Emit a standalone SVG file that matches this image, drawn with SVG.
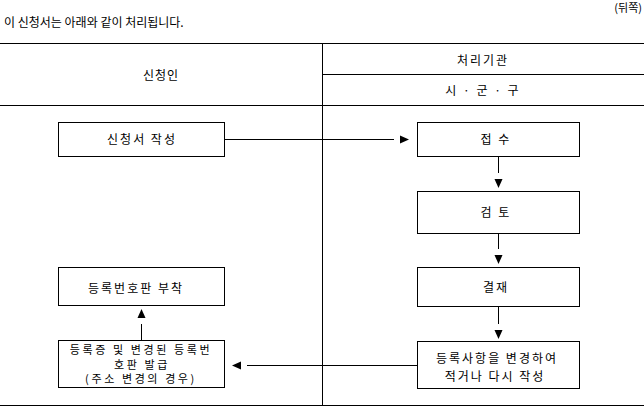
<svg xmlns="http://www.w3.org/2000/svg" width="644" height="407" viewBox="0 0 644 407">
<style>
  text { font-family: "Noto Sans CJK KR", "Noto Sans", sans-serif; font-size: 12px; fill: #000; }
  .c { text-anchor: middle; letter-spacing: 2px; }
  .s { font-size: 11px; letter-spacing: 2.6px; }
  .grid { stroke: #000; stroke-width: 1; fill: none; }
  .box { stroke: #000; stroke-width: 1; fill: #fff; }
  .conn { stroke: #000; stroke-width: 1; fill: none; marker-end: url(#arr); }
</style>
<defs>
  <marker id="arr" viewBox="0 0 9 8" refX="-6" refY="4" markerWidth="9" markerHeight="8" markerUnits="userSpaceOnUse" orient="auto" overflow="visible">
    <path d="M0,0 L9,4 L0,8 Z" fill="#000"/>
  </marker>
</defs>
<rect width="644" height="407" fill="#fff"/>
<text x="642" y="12" style="text-anchor:end;font-size:11px">(뒤쪽)</text>
<text x="4" y="27">이 신청서는 아래와 같이 처리됩니다.</text>
<g id="table" class="grid">
  <line x1="0" y1="43.5" x2="644" y2="43.5"/>
  <line x1="322" y1="74.5" x2="644" y2="74.5"/>
  <line x1="0" y1="105.5" x2="644" y2="105.5"/>
  <line x1="0" y1="405.5" x2="644" y2="405.5"/>
  <line x1="322.5" y1="43" x2="322.5" y2="406"/>
</g>
<text class="c" x="161" y="79.5" style="letter-spacing:1px">신청인</text>
<text class="c" x="483" y="64.5">처리기관</text>
<text class="c" x="483" y="94.5">시 · 군 · 구</text>
<g id="connectors">
  <line class="conn" x1="224.5" y1="139.5" x2="394" y2="139.5"/>
  <line class="conn" x1="498.5" y1="156.5" x2="498.5" y2="173"/>
  <line class="conn" x1="498.5" y1="233.5" x2="498.5" y2="249"/>
  <line class="conn" x1="498.5" y1="306.5" x2="498.5" y2="324"/>
  <line class="conn" x1="417.5" y1="365.5" x2="247" y2="365.5"/>
  <line class="conn" x1="141.5" y1="340.5" x2="141.5" y2="324"/>
</g>
<g id="n1">
  <rect class="box" x="58.5" y="122.5" width="166" height="34"/>
  <text class="c" x="142" y="143.5">신청서 작성</text>
</g>
<g id="n2">
  <rect class="box" x="417.5" y="122.5" width="162" height="34"/>
  <text class="c" x="496" y="143.5">접 수</text>
</g>
<g id="n3">
  <rect class="box" x="417.5" y="191.5" width="162" height="42"/>
  <text class="c" x="496" y="216.5">검 토</text>
</g>
<g id="n4">
  <rect class="box" x="417.5" y="267.5" width="162" height="39"/>
  <text class="c" x="496" y="291.5">결재</text>
</g>
<g id="n5">
  <rect class="box" x="417.5" y="341.5" width="162" height="47"/>
  <text class="c" x="497" y="363">등록사항을 변경하여</text>
  <text class="c" x="495" y="381">적거나 다시 작성</text>
</g>
<g id="n6">
  <rect class="box" x="58.5" y="340.5" width="166" height="47"/>
  <text class="c s" x="141" y="354">등록증 및 변경된 등록번</text>
  <text class="c s" x="142" y="368.5">호판 발급</text>
  <text class="c s" x="141" y="383">(주소 변경의 경우)</text>
</g>
<g id="n7">
  <rect class="box" x="58.5" y="267.5" width="166" height="38"/>
  <text class="c" x="136" y="292.5">등록번호판 부착</text>
</g>
</svg>
